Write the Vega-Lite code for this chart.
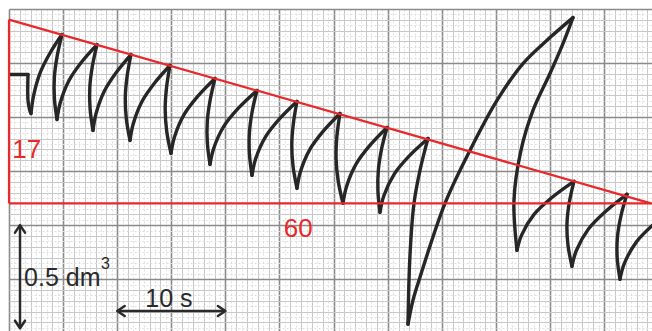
{
  "$schema": "https://vega.github.io/schema/vega-lite/v6.json",
  "width": 643,
  "height": 322,
  "autosize": "none",
  "padding": {"left": 9, "top": 9, "right": 0, "bottom": 0},
  "background": "white",
  "config": {"view": {"stroke": null}},
  "datasets": {
    "trace": [
      {"s":"S0a","i":0,"t":0,"v":1.197},{"s":"S0a","i":1,"t":1.756,"v":1.197},
      {"s":"S0b","i":2,"t":1.756,"v":1.197},{"s":"S0b","i":3,"t":1.756,"v":1.0767},{"s":"S0b","i":4,"t":1.895,"v":1.0351},{"s":"S0b","i":5,"t":2.033,"v":1.0166},
      {"s":"R1","i":6,"t":2.033,"v":1.0166},{"s":"R1","i":7,"t":2.264,"v":1.097},{"s":"R1","i":8,"t":2.893,"v":1.2066},{"s":"R1","i":9,"t":3.808,"v":1.2976},{"s":"R1","i":10,"t":4.898,"v":1.3817},
      {"s":"F1","i":11,"t":4.898,"v":1.3817},{"s":"F1","i":12,"t":4.455,"v":1.2833},{"s":"F1","i":13,"t":4.196,"v":1.1853},{"s":"F1","i":14,"t":4.196,"v":1.0869},{"s":"F1","i":15,"t":4.436,"v":0.9889},
      {"s":"R2","i":16,"t":4.436,"v":0.9889},{"s":"R2","i":17,"t":4.732,"v":1.0652},{"s":"R2","i":18,"t":5.545,"v":1.1691},{"s":"R2","i":19,"t":6.728,"v":1.2558},{"s":"R2","i":20,"t":8.133,"v":1.3355},
      {"s":"F2","i":21,"t":8.133,"v":1.3355},{"s":"F2","i":22,"t":7.708,"v":1.2361},{"s":"F2","i":23,"t":7.468,"v":1.1368},{"s":"F2","i":24,"t":7.495,"v":1.0374},{"s":"F2","i":25,"t":7.763,"v":0.9381},
      {"s":"R3","i":26,"t":7.763,"v":0.9381},{"s":"R3","i":27,"t":8.041,"v":1.0153},{"s":"R3","i":28,"t":8.817,"v":1.1206},{"s":"R3","i":29,"t":9.945,"v":1.2084},{"s":"R3","i":30,"t":11.275,"v":1.2893},
      {"s":"F3","i":31,"t":11.275,"v":1.2893},{"s":"F3","i":32,"t":10.92,"v":1.1899},{"s":"F3","i":33,"t":10.749,"v":1.0906},{"s":"F3","i":34,"t":10.846,"v":0.9912},{"s":"F3","i":35,"t":11.183,"v":0.8919},
      {"s":"R4","i":36,"t":11.183,"v":0.8919},{"s":"R4","i":37,"t":11.479,"v":0.9681},{"s":"R4","i":38,"t":12.292,"v":1.0721},{"s":"R4","i":39,"t":13.475,"v":1.1587},{"s":"R4","i":40,"t":14.88,"v":1.2385},
      {"s":"F4","i":41,"t":14.88,"v":1.2385},{"s":"F4","i":42,"t":14.561,"v":1.1368},{"s":"F4","i":43,"t":14.436,"v":1.0351},{"s":"F4","i":44,"t":14.579,"v":0.9335},{"s":"F4","i":45,"t":14.972,"v":0.8318},
      {"s":"R5","i":46,"t":14.972,"v":0.8318},{"s":"R5","i":47,"t":15.296,"v":0.908},{"s":"R5","i":48,"t":16.192,"v":1.012},{"s":"R5","i":49,"t":17.495,"v":1.0987},{"s":"R5","i":50,"t":19.039,"v":1.1784},
      {"s":"F5","i":51,"t":19.039,"v":1.1784},{"s":"F5","i":52,"t":18.591,"v":1.079},{"s":"F5","i":53,"t":18.327,"v":0.9797},{"s":"F5","i":54,"t":18.332,"v":0.8803},{"s":"F5","i":55,"t":18.577,"v":0.781},
      {"s":"R6","i":56,"t":18.577,"v":0.781},{"s":"R6","i":57,"t":18.928,"v":0.8563},{"s":"R6","i":58,"t":19.88,"v":0.9589},{"s":"R6","i":59,"t":21.266,"v":1.0444},{"s":"R6","i":60,"t":22.92,"v":1.1229},
      {"s":"F6","i":61,"t":22.92,"v":1.1229},{"s":"F6","i":62,"t":22.472,"v":1.0247},{"s":"F6","i":63,"t":22.218,"v":0.9265},{"s":"F6","i":64,"t":22.223,"v":0.8283},{"s":"F6","i":65,"t":22.458,"v":0.7301},
      {"s":"R7","i":66,"t":22.458,"v":0.7301},{"s":"R7","i":67,"t":22.791,"v":0.8055},{"s":"R7","i":68,"t":23.706,"v":0.908},{"s":"R7","i":69,"t":25.037,"v":0.9935},{"s":"R7","i":70,"t":26.617,"v":1.0721},
      {"s":"F7","i":71,"t":26.617,"v":1.0721},{"s":"F7","i":72,"t":26.285,"v":0.9716},{"s":"F7","i":73,"t":26.137,"v":0.8711},{"s":"F7","i":74,"t":26.257,"v":0.7706},{"s":"F7","i":75,"t":26.617,"v":0.6701},
      {"s":"R8","i":76,"t":26.617,"v":0.6701},{"s":"R8","i":77,"t":26.932,"v":0.7463},{"s":"R8","i":78,"t":27.81,"v":0.8503},{"s":"R8","i":79,"t":29.085,"v":0.9369},{"s":"R8","i":80,"t":30.591,"v":1.0166},
      {"s":"F8","i":81,"t":30.591,"v":1.0166},{"s":"F8","i":82,"t":30.31,"v":0.9127},{"s":"F8","i":83,"t":30.231,"v":0.8087},{"s":"F8","i":84,"t":30.425,"v":0.7047},{"s":"F8","i":85,"t":30.869,"v":0.6007},
      {"s":"R9","i":86,"t":30.869,"v":0.6007},{"s":"R9","i":87,"t":31.192,"v":0.6779},{"s":"R9","i":88,"t":32.089,"v":0.7833},{"s":"R9","i":89,"t":33.392,"v":0.8711},{"s":"R9","i":90,"t":34.935,"v":0.9519},
      {"s":"F9","i":91,"t":34.935,"v":0.9519},{"s":"F9","i":92,"t":34.441,"v":0.8537},{"s":"F9","i":93,"t":34.14,"v":0.7555},{"s":"F9","i":94,"t":34.099,"v":0.6574},{"s":"F9","i":95,"t":34.288,"v":0.5592},
      {"s":"R10","i":96,"t":34.288,"v":0.5592},{"s":"R10","i":97,"t":34.639,"v":0.6345},{"s":"R10","i":98,"t":35.619,"v":0.7371},{"s":"R10","i":99,"t":37.042,"v":0.8226},{"s":"R10","i":100,"t":38.724,"v":0.9011},
      {"s":"F10","i":101,"t":38.724,"v":0.9011},{"s":"F10","i":102,"t":37.985,"v":0.7532},{"s":"F10","i":103,"t":37.431,"v":0.6007},{"s":"F10","i":104,"t":37.061,"v":0.3604},{"s":"F10","i":105,"t":36.876,"v":0.0416},
      {"s":"R11","i":106,"t":36.876,"v":0.0416},{"s":"R11","i":107,"t":37.338,"v":0.1525},{"s":"R11","i":108,"t":37.985,"v":0.2588},{"s":"R11","i":109,"t":40.296,"v":0.6007},{"s":"R11","i":110,"t":42.606,"v":0.8457},{"s":"R11","i":111,"t":45.101,"v":1.0767},{"s":"R11","i":112,"t":47.504,"v":1.2477},{"s":"R11","i":113,"t":50.0,"v":1.3678},{"s":"R11","i":114,"t":52.125,"v":1.4603},
      {"s":"F11","i":115,"t":52.125,"v":1.4603},{"s":"F11","i":116,"t":51.201,"v":1.3401},{"s":"F11","i":117,"t":50.0,"v":1.2015},{"s":"F11","i":118,"t":48.429,"v":1.0305},{"s":"F11","i":119,"t":47.32,"v":0.8457},{"s":"F11","i":120,"t":46.673,"v":0.6146},{"s":"F11","i":121,"t":46.95,"v":0.3836},
      {"s":"R12","i":122,"t":46.95,"v":0.3836},{"s":"R12","i":123,"t":47.375,"v":0.4538},{"s":"R12","i":124,"t":48.53,"v":0.5495},{"s":"R12","i":125,"t":50.212,"v":0.6289},{"s":"R12","i":126,"t":52.218,"v":0.7024},
      {"s":"F12","i":127,"t":52.218,"v":0.7024},{"s":"F12","i":128,"t":51.784,"v":0.6042},{"s":"F12","i":129,"t":51.571,"v":0.506},{"s":"F12","i":130,"t":51.663,"v":0.4078},{"s":"F12","i":131,"t":52.033,"v":0.3096},
      {"s":"R13","i":132,"t":52.033,"v":0.3096},{"s":"R13","i":133,"t":52.44,"v":0.3826},{"s":"R13","i":134,"t":53.558,"v":0.4824},{"s":"R13","i":135,"t":55.185,"v":0.5656},{"s":"R13","i":136,"t":57.116,"v":0.6423},
      {"s":"F13","i":137,"t":57.116,"v":0.6423},{"s":"F13","i":138,"t":56.566,"v":0.5441},{"s":"F13","i":139,"t":56.238,"v":0.4459},{"s":"F13","i":140,"t":56.215,"v":0.3477},{"s":"F13","i":141,"t":56.469,"v":0.2495},
      {"s":"R14","i":142,"t":56.469,"v":0.2495},{"s":"R14","i":143,"t":56.876,"v":0.3226},{"s":"R14","i":144,"t":57.994,"v":0.4224},{"s":"R14","i":145,"t":59.621,"v":0.5055}
    ],
    "triangle": [
      {"t":0,"v":0.6007,"t2":59.43,"v2":0.6007},
      {"t":0,"v":0.6007,"t2":0,"v2":1.451},
      {"t":0,"v":1.451,"t2":59.33,"v2":0.6007}
    ],
    "redlabels": [
      {"t":0.3,"v":0.8105,"label":"17"},
      {"t":25.4,"v":0.4449,"label":"60"}
    ],
    "arrows": [
      {"t":1.017,"v":0.5,"t2":1.017,"v2":0.023},
      {"t":10,"v":0.1025,"t2":20,"v2":0.1025}
    ],
    "heads": [
      {"t":1.017,"v":0.5,"d":"up"},
      {"t":1.017,"v":0.023,"d":"down"},
      {"t":10,"v":0.1025,"d":"left"},
      {"t":20,"v":0.1025,"d":"right"}
    ],
    "scalelabels": [
      {"t":1.39,"v":0.2182,"label":"0.5 dm"},
      {"t":12.6,"v":0.121,"label":"10 s"}
    ],
    "superscript": [
      {"t":8.5,"v":0.2968,"label":"3"}
    ]
  },
  "resolve": {"axis": {"x": "independent", "y": "independent"}},
  "layer": [
    {
      "data": {"name": "trace"},
      "mark": {"type": "line", "interpolate": "catmull-rom", "stroke": "#262626", "strokeWidth": 3.4, "strokeCap": "round", "strokeJoin": "round", "clip": true},
      "encoding": {
        "x": {"field": "t", "type": "quantitative", "scale": {"domain": [0, 59.43], "nice": false, "zero": false},
          "axis": {"orient": "bottom", "title": null, "labels": false, "ticks": false, "domain": false, "grid": true,
            "values": [0,1,2,3,4,5,6,7,8,9,10,11,12,13,14,15,16,17,18,19,20,21,22,23,24,25,26,27,28,29,30,31,32,33,34,35,36,37,38,39,40,41,42,43,44,45,46,47,48,49,50,51,52,53,54,55,56,57,58,59],
            "gridColor": {"condition": {"test": "abs(datum.value/5-round(datum.value/5))<0.01", "value": "#8a8a8a"}, "value": "#c8c8c8"},
            "gridWidth": {"condition": {"test": "abs(datum.value/5-round(datum.value/5))<0.01", "value": 1.6}, "value": 1}}},
        "y": {"field": "v", "type": "quantitative", "scale": {"domain": [0.01, 1.5], "nice": false, "zero": false},
          "axis": {"orient": "left", "title": null, "labels": false, "ticks": false, "domain": false, "grid": true,
            "values": [0.05,0.1,0.15,0.2,0.25,0.3,0.35,0.4,0.45,0.5,0.55,0.6,0.65,0.7,0.75,0.8,0.85,0.9,0.95,1,1.05,1.1,1.15,1.2,1.25,1.3,1.35,1.4,1.45,1.5],
            "gridColor": {"condition": {"test": "abs(datum.value*4-round(datum.value*4))<0.01", "value": "#8a8a8a"}, "value": "#c8c8c8"},
            "gridWidth": {"condition": {"test": "abs(datum.value*4-round(datum.value*4))<0.01", "value": 1.6}, "value": 1}}},
        "detail": {"field": "s", "type": "nominal"},
        "order": {"field": "i", "type": "quantitative"}
      }
    },
    {
      "data": {"name": "triangle"},
      "mark": {"type": "rule", "stroke": "#e8282b", "strokeWidth": 2.2},
      "encoding": {
        "x": {"field": "t", "type": "quantitative", "scale": {"domain": [0, 59.43], "nice": false, "zero": false},
          "axis": {"orient": "top", "title": null, "labels": false, "ticks": false, "domain": false, "grid": true,
            "values": [0.5,1.5,2.5,3.5,4.5,5.5,6.5,7.5,8.5,9.5,10.5,11.5,12.5,13.5,14.5,15.5,16.5,17.5,18.5,19.5,20.5,21.5,22.5,23.5,24.5,25.5,26.5,27.5,28.5,29.5,30.5,31.5,32.5,33.5,34.5,35.5,36.5,37.5,38.5,39.5,40.5,41.5,42.5,43.5,44.5,45.5,46.5,47.5,48.5,49.5,50.5,51.5,52.5,53.5,54.5,55.5,56.5,57.5,58.5],
            "gridColor": "#dedede", "gridWidth": 1, "gridDash": [2, 2]}},
        "x2": {"field": "t2"},
        "y": {"field": "v", "type": "quantitative", "scale": {"domain": [0.01, 1.5], "nice": false, "zero": false},
          "axis": {"orient": "right", "title": null, "labels": false, "ticks": false, "domain": false, "grid": true,
            "values": [0.025,0.075,0.125,0.175,0.225,0.275,0.325,0.375,0.425,0.475,0.525,0.575,0.625,0.675,0.725,0.775,0.825,0.875,0.925,0.975,1.025,1.075,1.125,1.175,1.225,1.275,1.325,1.375,1.425,1.475],
            "gridColor": "#dedede", "gridWidth": 1, "gridDash": [2, 2]}},
        "y2": {"field": "v2"}
      }
    },
    {
      "data": {"name": "redlabels"},
      "mark": {"type": "text", "align": "left", "baseline": "alphabetic", "font": "Liberation Sans", "fontSize": 26, "fill": "#e8282b"},
      "encoding": {
        "x": {"field": "t", "type": "quantitative", "axis": null},
        "y": {"field": "v", "type": "quantitative", "axis": null},
        "text": {"field": "label", "type": "nominal"}
      }
    },
    {
      "data": {"name": "arrows"},
      "mark": {"type": "rule", "stroke": "#2a2a2a", "strokeWidth": 2.5},
      "encoding": {
        "x": {"field": "t", "type": "quantitative", "axis": null},
        "x2": {"field": "t2"},
        "y": {"field": "v", "type": "quantitative", "axis": null},
        "y2": {"field": "v2"}
      }
    },
    {
      "data": {"name": "heads"},
      "mark": {"type": "point", "filled": false, "stroke": "#2a2a2a", "strokeWidth": 2.5, "size": 100, "opacity": 1, "strokeCap": "round", "strokeJoin": "round"},
      "encoding": {
        "x": {"field": "t", "type": "quantitative", "axis": null},
        "y": {"field": "v", "type": "quantitative", "axis": null},
        "shape": {"field": "d", "type": "nominal", "legend": null,
          "scale": {"domain": ["up", "down", "left", "right"],
            "range": ["M-1,1.5L0,0L1,1.5", "M-1,-1.5L0,0L1,-1.5", "M1.5,-1L0,0L1.5,1", "M-1.5,-1L0,0L-1.5,1"]}}
      }
    },
    {
      "data": {"name": "scalelabels"},
      "mark": {"type": "text", "align": "left", "baseline": "alphabetic", "font": "Liberation Sans", "fontSize": 25, "fill": "#2a2a2a"},
      "encoding": {
        "x": {"field": "t", "type": "quantitative", "axis": null},
        "y": {"field": "v", "type": "quantitative", "axis": null},
        "text": {"field": "label", "type": "nominal"}
      }
    },
    {
      "data": {"name": "superscript"},
      "mark": {"type": "text", "align": "left", "baseline": "alphabetic", "font": "Liberation Sans", "fontSize": 16, "fill": "#2a2a2a"},
      "encoding": {
        "x": {"field": "t", "type": "quantitative", "axis": null},
        "y": {"field": "v", "type": "quantitative", "axis": null},
        "text": {"field": "label", "type": "nominal"}
      }
    }
  ]
}
